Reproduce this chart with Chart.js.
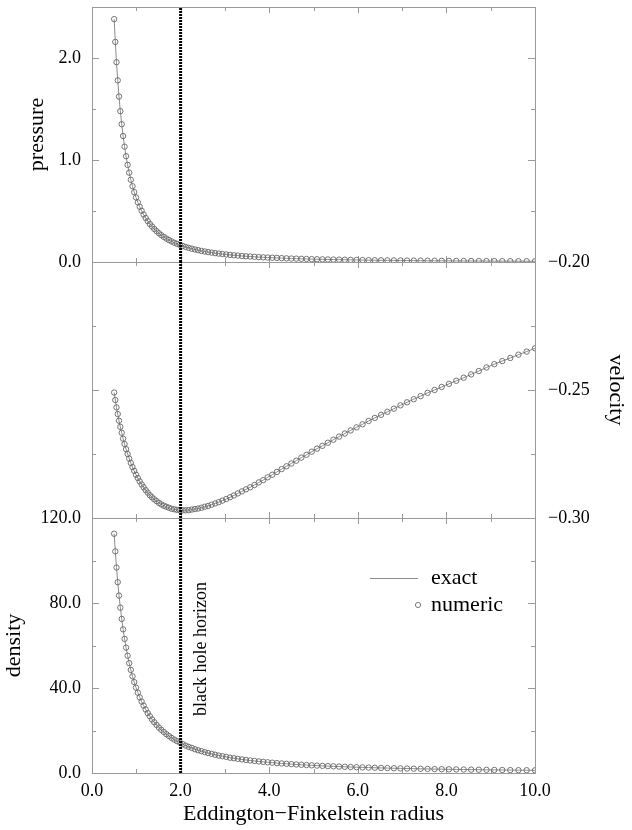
<!DOCTYPE html>
<html>
<head>
<meta charset="utf-8">
<script src="https://cdn.jsdelivr.net/npm/chart.js@4.4.1/dist/chart.umd.min.js"></script>
<style>
body { margin: 0; background: #fff; }
#wrap { position: relative; width: 632px; height: 830px; }
#wrap canvas { position: absolute; left: 0; top: 0; }
</style>
</head>
<body>
<div id="wrap">
  <canvas id="cPressure" width="632" height="830"></canvas>
  <canvas id="cVelocity" width="632" height="830"></canvas>
  <canvas id="cDensity" width="632" height="830"></canvas>
</div>
<script>
//----------------- DATOS -----------------
// Eddington-Finkelstein radius (shared by the three panels)
var radius = [
  0.500,0.526,0.553,0.581,0.610,0.640,0.671,0.702,0.735,0.769,
  0.804,0.840,0.876,0.914,0.953,0.993,1.035,1.077,1.120,1.165,
  1.211,1.258,1.306,1.355,1.406,1.458,1.511,1.565,1.621,1.678,
  1.736,1.796,1.857,1.919,1.983,2.048,2.115,2.183,2.252,2.323,
  2.395,2.469,2.544,2.621,2.700,2.780,2.861,2.944,3.029,3.115,
  3.203,3.292,3.384,3.476,3.571,3.667,3.765,3.865,3.966,4.069,
  4.174,4.281,4.390,4.500,4.612,4.726,4.842,4.960,5.079,5.201,
  5.325,5.450,5.577,5.707,5.838,5.971,6.107,6.244,6.384,6.525,
  6.669,6.815,6.962,7.112,7.264,7.418,7.575,7.733,7.894,8.057,
  8.222,8.390,8.559,8.731,8.905,9.082,9.261,9.442,9.626,9.812,10.000
];
var pressure = [
  2.381,2.158,1.959,1.781,1.622,1.479,1.351,1.235,1.131,1.037,
  0.952,0.876,0.806,0.743,0.685,0.633,0.585,0.542,0.502,0.465,
  0.432,0.401,0.373,0.348,0.324,0.302,0.282,0.263,0.246,0.230,
  0.215,0.202,0.189,0.178,0.167,0.157,0.147,0.139,0.130,0.123,
  0.116,0.109,0.103,0.097,0.092,0.087,0.082,0.078,0.074,0.070,
  0.066,0.063,0.059,0.056,0.054,0.051,0.048,0.046,0.044,0.042,
  0.040,0.038,0.036,0.034,0.033,0.031,0.030,0.028,0.027,0.026,
  0.025,0.024,0.023,0.022,0.021,0.020,0.019,0.018,0.0175,0.0167,
  0.0160,0.0154,0.0148,0.0142,0.0136,0.0131,0.0125,0.0121,0.0116,0.0111,
  0.0107,0.0103,0.0099,0.0095,0.0092,0.0088,0.0085,0.0082,0.0079,0.0076,0.0073
];
var velocity = [
  -0.2510,-0.2539,-0.2568,-0.2594,-0.2620,-0.2644,-0.2667,-0.2690,-0.2711,-0.2731,
  -0.2750,-0.2768,-0.2785,-0.2801,-0.2816,-0.2831,-0.2844,-0.2857,-0.2869,-0.2880,
  -0.2891,-0.2901,-0.2911,-0.2919,-0.2927,-0.2934,-0.2941,-0.2947,-0.2952,-0.2956,
  -0.2960,-0.2964,-0.2966,-0.2968,-0.2970,-0.2970,-0.2970,-0.2969,-0.2967,-0.2965,
  -0.2963,-0.2960,-0.2956,-0.2953,-0.2948,-0.2943,-0.2938,-0.2932,-0.2926,-0.2919,
  -0.2912,-0.2904,-0.2896,-0.2888,-0.2880,-0.2871,-0.2861,-0.2852,-0.2841,-0.2831,
  -0.2820,-0.2809,-0.2798,-0.2787,-0.2776,-0.2764,-0.2753,-0.2741,-0.2729,-0.2718,
  -0.2706,-0.2694,-0.2682,-0.2670,-0.2658,-0.2646,-0.2634,-0.2621,-0.2609,-0.2597,
  -0.2585,-0.2573,-0.2560,-0.2548,-0.2536,-0.2524,-0.2511,-0.2500,-0.2488,-0.2476,
  -0.2464,-0.2452,-0.2439,-0.2426,-0.2412,-0.2399,-0.2387,-0.2375,-0.2362,-0.2350,-0.2337
];
var density = [
  112.6,104.3,96.7,89.8,83.5,77.8,72.5,67.6,63.1,59.0,
  55.2,51.7,48.5,45.5,42.8,40.2,37.8,35.6,33.6,31.7,
  29.9,28.2,26.7,25.2,23.9,22.6,21.4,20.3,19.3,18.3,
  17.4,16.5,15.7,15.0,14.3,13.6,12.9,12.3,11.8,11.2,
  10.7,10.3,9.8,9.4,9.0,8.6,8.2,7.9,7.6,7.2,
  6.94,6.66,6.39,6.14,5.90,5.67,5.45,5.24,5.04,4.85,
  4.67,4.49,4.33,4.17,4.02,3.87,3.74,3.60,3.48,3.36,
  3.24,3.13,3.02,2.92,2.82,2.73,2.64,2.55,2.47,2.39,
  2.31,2.24,2.17,2.10,2.03,1.97,1.91,1.85,1.79,1.74,
  1.69,1.64,1.59,1.54,1.50,1.45,1.41,1.37,1.33,1.30,1.26
];
var horizonRadius = 2.0;

// axes
var xRange = [0, 10];
var xTickMarks = [1, 2, 3, 4, 5, 6, 7, 8, 9];
var pressureRange = [0, 2.5];
var pressureTickMarks = [0.5, 1.0, 1.5, 2.0];
var pressureMajor = [1.0, 2.0];
var velocityRange = [-0.30, -0.20];
var velocityTickMarks = [-0.275, -0.25, -0.225];
var velocityMajor = [-0.25];
var densityRange = [0, 120];
var densityTickMarks = [20, 40, 60, 80, 100];
var densityMajor = [40, 80];

//----------------- ESTILO -----------------
Chart.defaults.font.family = "'Liberation Serif', 'DejaVu Serif', serif";
Chart.defaults.color = '#000';
var axisGray = '#9a9a9a';
var tickFont = { size: 18 };
var titleFont = { size: 22 };

//----------------- PLUGINS -----------------
var framePlugin = {
  id: 'frame',
  beforeDatasetsDraw: function (chart, args, opts) {
    var ctx = chart.ctx, a = chart.chartArea;
    var xs = chart.scales.x, ys = chart.scales[opts.yId];
    ctx.save();
    ctx.strokeStyle = axisGray;
    ctx.lineWidth = 1;
    ctx.strokeRect(a.left + 0.5, a.top + 0.5, a.right - a.left, a.bottom - a.top);
    ctx.beginPath();
    xTickMarks.forEach(function (v) {
      var px = Math.round(xs.getPixelForValue(v)) + 0.5;
      var len = (v % 2 === 0) ? 6 : 4;
      ctx.moveTo(px, a.top); ctx.lineTo(px, a.top + len);
      ctx.moveTo(px, a.bottom); ctx.lineTo(px, a.bottom - len);
    });
    opts.ticks.forEach(function (v) {
      var py = Math.round(ys.getPixelForValue(v)) + 0.5;
      var len = opts.major.indexOf(v) >= 0 ? 7 : 4;
      ctx.moveTo(a.left, py); ctx.lineTo(a.left + len, py);
      ctx.moveTo(a.right, py); ctx.lineTo(a.right - len, py);
    });
    ctx.stroke();
    ctx.restore();
  }
};

var notesPlugin = {
  id: 'notes',
  afterDatasetsDraw: function (chart) {
    var ctx = chart.ctx, a = chart.chartArea;
    var xs = chart.scales.x;
    ctx.save();
    // legend
    var lx = a.left + 278, ly = a.top + 60;
    ctx.strokeStyle = '#8c8c8c';
    ctx.lineWidth = 1;
    ctx.beginPath();
    ctx.moveTo(lx, ly + 0.5); ctx.lineTo(lx + 48, ly + 0.5);
    ctx.stroke();
    ctx.strokeStyle = '#6e6e6e';
    ctx.lineWidth = 0.9;
    ctx.beginPath();
    ctx.arc(lx + 48, ly + 27, 2.6, 0, Math.PI * 2);
    ctx.stroke();
    ctx.fillStyle = '#000';
    ctx.font = "22px 'Liberation Serif', serif";
    ctx.textBaseline = 'middle';
    ctx.textAlign = 'left';
    ctx.fillText('exact', lx + 61, ly);
    ctx.fillText('numeric', lx + 61, ly + 27);
    // horizon label
    ctx.translate(xs.getPixelForValue(horizonRadius) + 21, a.top + 131);
    ctx.rotate(-Math.PI / 2);
    ctx.textAlign = 'center';
    ctx.font = "18px 'Liberation Serif', serif";
    ctx.fillText('black hole horizon', 0, 0);
    ctx.restore();
  }
};

//----------------- GRAFICOS -----------------
function puntos(ys) {
  return radius.map(function (r, i) { return { x: r, y: ys[i] }; });
}

function datasets(ys, range, yId) {
  return [
    { label: 'horizon', data: [{ x: horizonRadius, y: range[0] }, { x: horizonRadius, y: range[1] }],
      yAxisID: yId, showLine: true, pointRadius: 0, borderColor: '#000', borderWidth: 3,
      borderDash: [2, 1], order: -1 },
    { label: 'numeric', data: puntos(ys), yAxisID: yId, showLine: false,
      pointRadius: 2.7, pointBorderWidth: 0.9, pointBorderColor: '#666',
      pointBackgroundColor: 'rgba(255,255,255,0)', order: 1 },
    { label: 'exact', data: puntos(ys), yAxisID: yId, showLine: true, pointRadius: 0,
      borderColor: '#8c8c8c', borderWidth: 1, order: 2 }
  ];
}

function fijar(w, h) {
  return function (s) {
    if (w !== null) s.width = w;
    if (h !== null) s.height = h;
    s.paddingTop = 0; s.paddingBottom = 0; s.paddingLeft = 0; s.paddingRight = 0;
  };
}

function fmt1(v) { return Number(v).toFixed(1); }
function fmtVel(v) { return '\u2212' + Math.abs(v).toFixed(2); }

var xHidden = { type: 'linear', min: xRange[0], max: xRange[1], display: false };

var baseOpts = {
  responsive: false,
  animation: false,
  devicePixelRatio: 1,
  events: [],
  plugins: { legend: { display: false }, tooltip: { enabled: false } }
};

function opciones(extra) {
  return Object.assign({}, baseOpts, extra, {
    plugins: Object.assign({}, baseOpts.plugins, extra.plugins)
  });
}

// pressure
new Chart(document.getElementById('cPressure'), {
  type: 'scatter',
  data: { datasets: datasets(pressure, pressureRange, 'y') },
  plugins: [framePlugin],
  options: opciones({
    layout: { padding: { top: 7, bottom: 568, left: 0, right: 97 } },
    plugins: { frame: { yId: 'y', ticks: pressureTickMarks, major: pressureMajor } },
    scales: {
      x: xHidden,
      y: {
        type: 'linear', position: 'left', min: pressureRange[0], max: pressureRange[1],
        grid: { display: false, drawTicks: false }, border: { display: false },
        ticks: { stepSize: 1, includeBounds: false, padding: 11, font: tickFont, callback: fmt1 },
        title: { display: true, text: 'pressure', font: titleFont, padding: { top: 24, bottom: 0 } },
        afterFit: fijar(92, null)
      }
    }
  })
});

// velocity
new Chart(document.getElementById('cVelocity'), {
  type: 'scatter',
  data: { datasets: datasets(velocity, velocityRange, 'y') },
  plugins: [framePlugin],
  options: opciones({
    layout: { padding: { top: 262, bottom: 312, left: 92, right: 0 } },
    plugins: { frame: { yId: 'y', ticks: velocityTickMarks, major: velocityMajor } },
    scales: {
      x: xHidden,
      y: {
        type: 'linear', position: 'right', min: velocityRange[0], max: velocityRange[1],
        grid: { display: false, drawTicks: false }, border: { display: false },
        ticks: { stepSize: 0.05, padding: 13, font: tickFont, callback: fmtVel },
        title: { display: true, text: 'velocity', font: titleFont, padding: { top: 3, bottom: 0 } },
        afterFit: fijar(97, null)
      }
    }
  })
});

// density
new Chart(document.getElementById('cDensity'), {
  type: 'scatter',
  data: { datasets: datasets(density, densityRange, 'y') },
  plugins: [framePlugin, notesPlugin],
  options: opciones({
    layout: { padding: { top: 518, bottom: 0, left: 0, right: 97 } },
    plugins: { frame: { yId: 'y', ticks: densityTickMarks, major: densityMajor } },
    scales: {
      x: {
        type: 'linear', position: 'bottom', min: xRange[0], max: xRange[1],
        grid: { display: false, drawTicks: false }, border: { display: false },
        ticks: { stepSize: 2, padding: 7, font: tickFont, callback: fmt1, maxRotation: 0 },
        title: { display: true, text: 'Eddington\u2212Finkelstein radius', font: titleFont,
                 padding: { top: 0, bottom: 3 } },
        afterFit: fijar(null, 57)
      },
      y: {
        type: 'linear', position: 'left', min: densityRange[0], max: densityRange[1],
        grid: { display: false, drawTicks: false }, border: { display: false },
        ticks: { stepSize: 40, padding: 11, font: tickFont, callback: fmt1 },
        title: { display: true, text: 'density', font: titleFont, padding: { top: 1, bottom: 0 } },
        afterFit: fijar(92, null)
      }
    }
  })
});
</script>
</body>
</html>
